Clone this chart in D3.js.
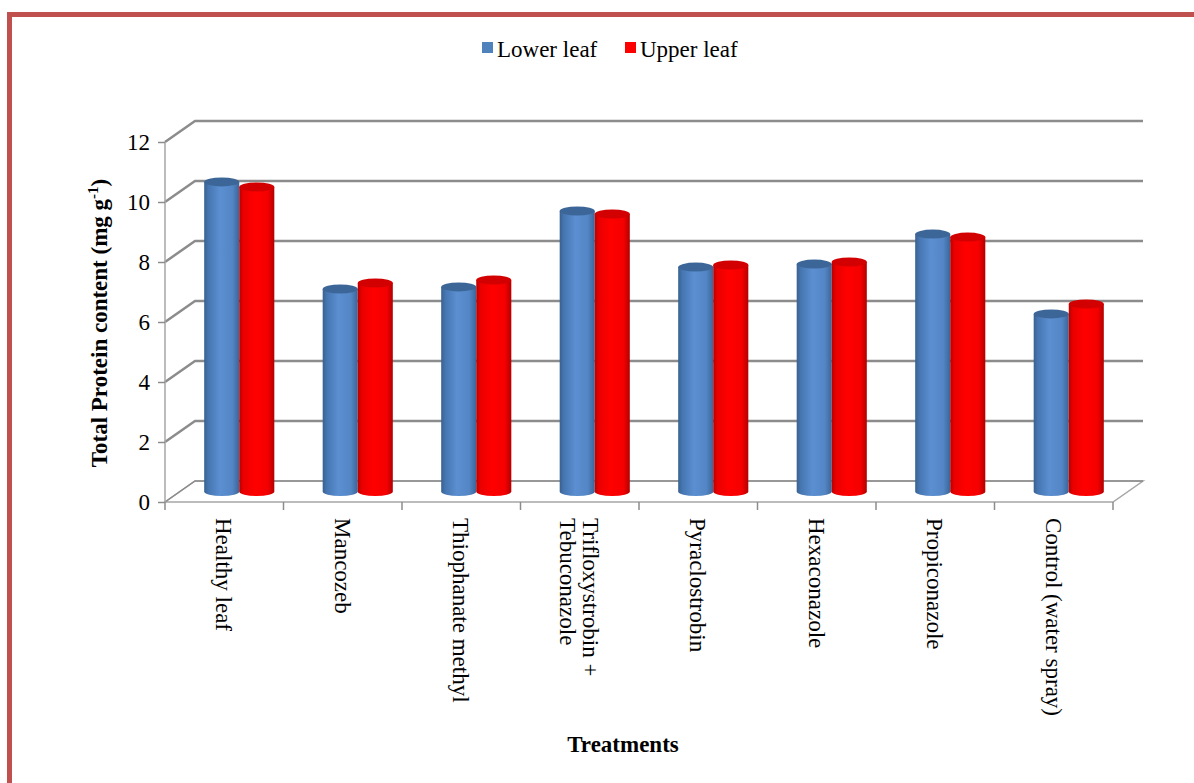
<!DOCTYPE html>
<html>
<head>
<meta charset="utf-8">
<script src="https://cdn.jsdelivr.net/npm/d3@7/dist/d3.min.js"></script>
<style>
    body { margin: 0; background: #fff; }
    #chart-area { width: 1194px; height: 783px; }
    text { font-family: "Liberation Serif", "Times New Roman", serif; fill: #000; }
</style>
</head>
<body>
<div id="chart-area"></div>
<script>
var categories = ["Healthy leaf", "Mancozeb", "Thiophanate methyl", "Trifloxystrobin +|Tebuconazole",
    "Pyraclostrobin", "Hexaconazole", "Propiconazole", "Control (water spray)"]
var seriesNames = ["Lower leaf", "Upper leaf"]
var lowerLeaf = [10.32, 6.75, 6.82, 9.35, 7.48, 7.58, 8.58, 5.92]
var upperLeaf = [10.15, 6.95, 7.05, 9.25, 7.55, 7.65, 8.48, 6.25]
var yTicks = [0, 2, 4, 6, 8, 10, 12]

function init() {
    var svgWidth = 1194
    var svgHeight = 783

    // 3d depth of the wall / floor
    var depth = { dx: 30, dy: -21 }

    var svg = d3.select("#chart-area")
        .append("svg")
        .attr("width", svgWidth)
        .attr("height", svgHeight)

    // gradients for the cylinders
    var defs = svg.append("defs")
    var grads = {
        blue: [["0%", "#39618f"], ["12%", "#4676b2"], ["45%", "#5b8fd1"], ["80%", "#5486c6"], ["100%", "#3a6598"]],
        red: [["0%", "#b80000"], ["12%", "#ea0000"], ["45%", "#ff0000"], ["82%", "#f40000"], ["100%", "#b30000"]]
    }
    Object.keys(grads).forEach(function(k) {
        var g = defs.append("linearGradient").attr("id", "grad-" + k)
            .attr("x1", "0%").attr("x2", "100%").attr("y1", "0%").attr("y2", "0%")
        grads[k].forEach(function(s) {
            g.append("stop").attr("offset", s[0]).attr("stop-color", s[1])
        })
    })

    // frame
    svg.append("path")
        .attr("d", "M9.5,783 L9.5,14.5 L1194,14.5")
        .attr("fill", "none")
        .attr("stroke", "#c0504d")
        .attr("stroke-width", 5)

    var yScale = d3.scaleLinear()
        .domain([0, 12])
        .range([502, 142])

    var xScale = d3.scaleBand()
        .domain(categories)
        .range([165, 1113])

    var xScale1 = d3.scaleBand()
        .domain(seriesNames)
        .range([0, xScale.bandwidth()])
        .paddingOuter(0.69)

    var chartGroup = svg.append("g").attr("id", "chart-group")

    // floor
    chartGroup.append("path")
        .attr("d", "M" + xScale.range()[0] + "," + yScale(0) + " L" + xScale.range()[1] + "," + yScale(0) +
            " L" + (xScale.range()[1] + depth.dx) + "," + (yScale(0) + depth.dy) +
            " L" + (xScale.range()[0] + depth.dx) + "," + (yScale(0) + depth.dy) + " Z")
        .attr("fill", "#fff")
        .attr("stroke", "#a6a6a6")
        .attr("stroke-width", 1.5)

    // gridlines on the back wall + left wall diagonals
    chartGroup.append("g")
        .selectAll("path")
        .data(yTicks)
        .enter()
        .append("path")
        .attr("d", function(d) {
            var x0 = xScale.range()[0], y0 = yScale(d)
            return "M" + x0 + "," + y0 + " L" + (x0 + depth.dx) + "," + (y0 + depth.dy) +
                " L" + (xScale.range()[1] + depth.dx) + "," + (y0 + depth.dy)
        })
        .attr("fill", "none")
        .attr("stroke", "#8c8c8c")
        .attr("stroke-width", function(d) { return d == 0 ? 1.5 : 2.5 })

    // front y axis line
    chartGroup.append("line")
        .attr("x1", xScale.range()[0]).attr("x2", xScale.range()[0])
        .attr("y1", yScale(0)).attr("y2", yScale(12))
        .attr("stroke", "#a6a6a6")
        .attr("stroke-width", 1.5)

    var leftAxis = d3.axisLeft(yScale)
        .tickValues(yTicks)
        .tickSize(7)
        .tickPadding(8)

    var yAxis = chartGroup.append("g")
        .attr("id", "y-axis")
        .attr("transform", "translate(" + xScale.range()[0] + ",0)")
        .call(leftAxis)
    yAxis.attr("font-family", null)
    yAxis.select(".domain").remove()
    yAxis.selectAll("line").attr("stroke", "#8c8c8c").attr("stroke-width", 1.5)
    yAxis.selectAll("text")
        .style("font-family", "Liberation Serif")
        .attr("font-size", "23px")
        .attr("fill", "#000")

    // x tick marks at band borders
    var borders = categories.map(function(c) { return xScale(c) }).concat([xScale.range()[1]])
    chartGroup.append("g")
        .selectAll("line")
        .data(borders)
        .enter()
        .append("line")
        .attr("x1", d => d).attr("x2", d => d)
        .attr("y1", yScale(0)).attr("y2", yScale(0) + 8)
        .attr("stroke", "#8c8c8c")
        .attr("stroke-width", 1.5)

    // cylinders
    var rows = categories.map(function(c, i) {
        return [
            { cat: c, key: seriesNames[0], value: lowerLeaf[i], color: "blue", top: "#3d6698" },
            { cat: c, key: seriesNames[1], value: upperLeaf[i], color: "red", top: "#d20000" }
        ]
    })
    var ry = 4.5
    var bars = chartGroup.append("g")
        .selectAll("g")
        .data(rows)
        .enter().append("g")
        .attr("transform", function(d) { return "translate(" + (xScale(d[0].cat) + depth.dx / 2) + "," + (depth.dy / 2) + ")" })
        .selectAll("g")
        .data(d => d)
        .enter()
        .append("g")

    bars.append("path")
        .attr("d", function(d) {
            var xl = xScale1(d.key), xr = xl + xScale1.bandwidth()
            var rx = xScale1.bandwidth() / 2
            var yt = yScale(d.value), yb = yScale(0)
            return "M" + xl + "," + yt + " L" + xl + "," + yb +
                " A" + rx + "," + ry + " 0 0 0 " + xr + "," + yb +
                " L" + xr + "," + yt + " Z"
        })
        .attr("fill", d => "url(#grad-" + d.color + ")")

    bars.append("ellipse")
        .attr("cx", d => xScale1(d.key) + xScale1.bandwidth() / 2)
        .attr("cy", d => yScale(d.value))
        .attr("rx", xScale1.bandwidth() / 2)
        .attr("ry", ry)
        .attr("fill", d => d.top)

    // x labels, rotated (first line ends up on the right)
    var labels = chartGroup.append("g")
        .selectAll("g")
        .data(categories)
        .enter()
        .append("g")
        .attr("transform", function(d) { return "translate(" + (xScale(d) + xScale.bandwidth() / 2) + ",518) rotate(90)" })
    labels.each(function(d) {
        var lines = d.split("|")
        var g = d3.select(this)
        lines.forEach(function(l, i) {
            g.append("text")
                .attr("x", 0)
                .attr("y", (i - (lines.length - 1) / 2) * 23 + 8)
                .attr("font-size", "23px")
                .attr("text-anchor", "start")
                .text(l)
        })
    })

    // y title
    var yTitle = svg.append("text")
        .attr("transform", "translate(107,323) rotate(-90)")
        .attr("text-anchor", "middle")
        .attr("font-size", "23px")
        .attr("font-weight", "bold")
    yTitle.append("tspan").text("Total Protein content (mg g")
    yTitle.append("tspan").attr("font-size", "15px").attr("dy", "-9").text("-1")
    yTitle.append("tspan").attr("dy", "9").text(")")

    // x title
    svg.append("text")
        .attr("x", 623)
        .attr("y", 752)
        .attr("text-anchor", "middle")
        .attr("font-size", "23px")
        .attr("font-weight", "bold")
        .text("Treatments")

    // legend
    var legendX = [482, 625]
    var legendColors = ["#4f81bd", "#ff0000"]
    seriesNames.forEach(function(name, i) {
        svg.append("rect")
            .attr("x", legendX[i]).attr("y", 42)
            .attr("width", 11).attr("height", 11)
            .attr("fill", legendColors[i])
        svg.append("text")
            .attr("x", legendX[i] + 15)
            .attr("y", 57)
            .attr("font-size", "23px")
            .text(name)
    })
}

window.addEventListener('load', init, false)
</script>
</body>
</html>
